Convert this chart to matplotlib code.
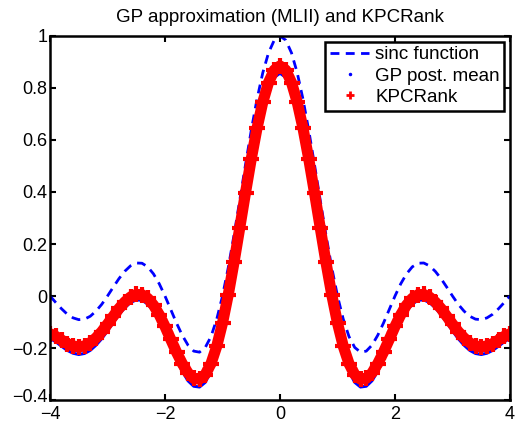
import numpy as np
import matplotlib
matplotlib.use("Agg")
import matplotlib.pyplot as plt
import matplotlib.transforms as mtransforms
from matplotlib.lines import Line2D

plt.rcParams['font.family'] = ['Liberation Sans', 'DejaVu Sans']

# sample grid, -4 .. 4 in steps of 0.1
x = np.linspace(-4, 4, 81)

# values, left to right
sinc_vals = [0.000, -0.025, -0.049, -0.070, -0.084, -0.091, -0.089, -0.078, -0.058, -0.032,
             0.000, 0.034, 0.067, 0.095, 0.116, 0.127, 0.126, 0.112, 0.085, 0.047,
             0.000, -0.052, -0.104, -0.151, -0.189, -0.212, -0.216, -0.198, -0.156, -0.089,
             0.000, 0.109, 0.234, 0.368, 0.505, 0.637, 0.757, 0.858, 0.935, 0.984,
             1.000,
             0.984, 0.935, 0.858, 0.757, 0.637, 0.505, 0.368, 0.234, 0.109, 0.000,
             -0.089, -0.156, -0.198, -0.216, -0.212, -0.189, -0.151, -0.104, -0.052, 0.000,
             0.047, 0.085, 0.112, 0.126, 0.127, 0.116, 0.095, 0.067, 0.034, 0.000,
             -0.032, -0.058, -0.078, -0.089, -0.091, -0.084, -0.070, -0.049, -0.025, 0.000]

gp_mean = [-0.163, -0.176, -0.193, -0.209, -0.220, -0.225, -0.221, -0.209, -0.189, -0.164,
           -0.134, -0.102, -0.071, -0.045, -0.025, -0.015, -0.016, -0.031, -0.058, -0.097,
           -0.143, -0.194, -0.244, -0.289, -0.326, -0.347, -0.350, -0.332, -0.290, -0.223,
           -0.134, -0.024, 0.101, 0.234, 0.369, 0.499, 0.617, 0.717, 0.793, 0.841,
           0.857,
           0.841, 0.793, 0.717, 0.617, 0.499, 0.369, 0.234, 0.101, -0.024, -0.134,
           -0.223, -0.290, -0.332, -0.350, -0.347, -0.326, -0.289, -0.244, -0.194, -0.143,
           -0.097, -0.058, -0.031, -0.016, -0.015, -0.025, -0.045, -0.071, -0.102, -0.134,
           -0.164, -0.189, -0.209, -0.221, -0.225, -0.220, -0.209, -0.193, -0.176, -0.163]

kpcrank = [-0.145, -0.155, -0.169, -0.183, -0.192, -0.196, -0.192, -0.180, -0.161, -0.137,
           -0.108, -0.078, -0.048, -0.023, -0.004, 0.006, 0.005, -0.009, -0.035, -0.072,
           -0.117, -0.167, -0.216, -0.260, -0.296, -0.317, -0.320, -0.302, -0.260, -0.193,
           -0.104, 0.005, 0.129, 0.262, 0.397, 0.527, 0.645, 0.745, 0.821, 0.869,
           0.885,
           0.869, 0.821, 0.745, 0.645, 0.527, 0.397, 0.262, 0.129, 0.005, -0.104,
           -0.193, -0.260, -0.302, -0.320, -0.317, -0.296, -0.260, -0.216, -0.167, -0.117,
           -0.072, -0.035, -0.009, 0.005, 0.006, -0.004, -0.023, -0.048, -0.078, -0.108,
           -0.137, -0.161, -0.180, -0.192, -0.196, -0.192, -0.183, -0.169, -0.155, -0.145]

labels = ["sinc function", "GP post. mean", "KPCRank"]
dash = (0, (3.2, 2.3))

fig = plt.figure(figsize=(5.15, 4.23), dpi=100)
ax = fig.add_axes([50 / 515, 1 - 400 / 423, 460 / 515, 364 / 423])

ax.plot(x, sinc_vals, color='b', lw=2, linestyle=dash)
ax.plot(x, gp_mean, color='b', lw=2.2)
ax.plot(x, kpcrank, color='r', lw=8, solid_capstyle='butt')
ax.plot(x, kpcrank, color='r', linestyle='none', marker='+', ms=11, mew=3)

ax.set_xlim(-4, 4)
ax.set_ylim(-0.4, 1)
ax.set_xticks([-4, -2, 0, 2, 4])
ax.set_yticks(np.round(np.arange(-0.4, 1.01, 0.2), 1))
ax.set_yticklabels(["\u22120.4", "\u22120.2", "0", "0.2", "0.4", "0.6", "0.8", "1"])
ax.set_xticklabels(["\u22124", "\u22122", "0", "2", "4"])
ax.tick_params(direction='in', length=4, width=1.5, labelsize=13,
               top=True, right=True)
ax.tick_params(axis='y', pad=2)
ax.tick_params(axis='x', pad=4)
for s in ax.spines.values():
    s.set_linewidth(1.8)

# nudge the lowest y label up a little so it clears the -4 below it
low = ax.get_yticklabels()[0]
low.set_transform(low.get_transform() +
                  mtransforms.ScaledTranslation(0, 3 / 72, fig.dpi_scale_trans))

ax.set_title("GP approximation (MLII) and KPCRank", fontsize=13.5, pad=10)

handles = [Line2D([], [], color='b', lw=2, linestyle=dash),
           Line2D([], [], color='b', linestyle='none', marker='.', ms=3),
           Line2D([], [], color='r', linestyle='none', marker='+', ms=6, mew=2)]
leg = ax.legend(handles, labels, loc='upper right', fontsize=13.5, fancybox=False,
                framealpha=1, edgecolor='k', borderaxespad=0.3, handlelength=2.1,
                handletextpad=0.3, labelspacing=0.22, borderpad=0.25)
leg.get_frame().set_linewidth(1.8)

plt.savefig("out.png", dpi=100)
